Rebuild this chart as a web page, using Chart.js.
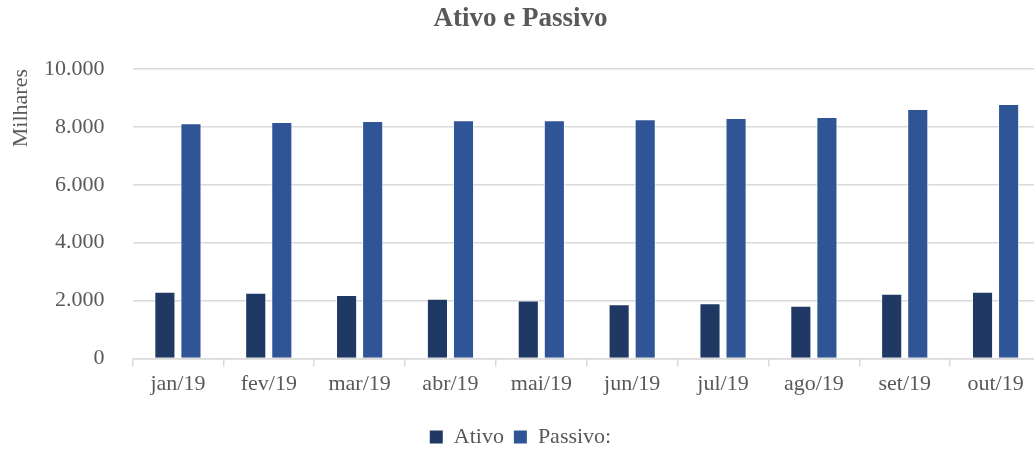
<!DOCTYPE html>
<html>
<head>
<meta charset="utf-8">
<script src="https://cdn.jsdelivr.net/npm/chart.js@4.4.1/dist/chart.umd.min.js"></script>
<style>
html,body{margin:0;padding:0;background:#fff;overflow:hidden;}
#wrap{width:1034px;height:450px;overflow:hidden;position:relative;}
#box{width:1042px;height:450px;position:absolute;left:0;top:0;}
</style>
</head>
<body>
<div id="wrap"><div id="box"><canvas id="c" width="1042" height="450"></canvas></div></div>
<script>
const categories = ['jan/19','fev/19','mar/19','abr/19','mai/19','jun/19','jul/19','ago/19','set/19','out/19'];
const ativo   = [2310, 2275, 2195, 2065, 2000, 1870, 1905, 1825, 2240, 2310];
const passivo = [8125, 8170, 8205, 8230, 8230, 8260, 8305, 8340, 8620, 8790];
const yTicks  = [0, 2000, 4000, 6000, 8000, 10000];
const yTickLabels = ['0', '2.000', '4.000', '6.000', '8.000', '10.000'];

const FONT = "'Liberation Serif', 'Times New Roman', serif";
const GREY = '#595959';

new Chart(document.getElementById('c'), {
  type: 'bar',
  data: {
    labels: categories,
    datasets: [
      { label: 'Ativo', data: ativo, backgroundColor: '#203864', borderColor: 'rgba(255,255,255,0.7)', borderWidth: 1,
        categoryPercentage: 0.574, barPercentage: 0.81 },
      { label: 'Passivo:', data: passivo, backgroundColor: '#2F5597', borderColor: 'rgba(255,255,255,0.7)', borderWidth: 1,
        categoryPercentage: 0.574, barPercentage: 0.81 }
    ]
  },
  options: {
    responsive: false,
    animation: false,
    layout: { padding: { left: 0, right: 1, top: 0, bottom: -8 } },
    plugins: {
      title: {
        display: true, text: 'Ativo e Passivo', color: GREY,
        font: { family: FONT, size: 27, weight: 'bold' },
        padding: { top: 3, bottom: 33.6 }
      },
      legend: {
        position: 'bottom',
        labels: {
          color: GREY, font: { family: FONT, size: 22 },
          boxWidth: 13, boxHeight: 13, padding: 10,
          generateLabels: (chart) => chart.data.datasets.map((ds, i) => ({
            text: ds.label, fillStyle: ds.backgroundColor, strokeStyle: ds.backgroundColor,
            lineWidth: 0, hidden: false, datasetIndex: i, fontColor: GREY
          }))
        }
      },
      tooltip: { enabled: false }
    },
    scales: {
      x: {
        afterFit: (s) => { s.height = 57.5; },
        grid: { display: true, drawOnChartArea: false, drawTicks: true, tickLength: 8, offset: true, color: '#D9D9D9', lineWidth: 1.5 },
        border: { display: true, color: '#D9D9D9', width: 1.5 },
        ticks: { color: GREY, font: { family: FONT, size: 22 }, padding: 5, maxRotation: 0 }
      },
      y: {
        min: 0, max: 10000,
        afterFit: (s) => { s.width = 132.5; },
        afterBuildTicks: (s) => { s.ticks = yTicks.map(v => ({ value: v })); },
        grid: { color: '#D9D9D9', lineWidth: 1.5, drawTicks: false },
        border: { display: false },
        ticks: {
          color: GREY, font: { family: FONT, size: 22 }, padding: 28,
          callback: (v) => yTickLabels[yTicks.indexOf(v)]
        },
        title: {
          display: true, text: 'Milhares', color: GREY, align: 'end',
          font: { family: FONT, size: 22 }, padding: { top: 8, bottom: 0 }
        }
      }
    }
  }
});
</script>
</body>
</html>
